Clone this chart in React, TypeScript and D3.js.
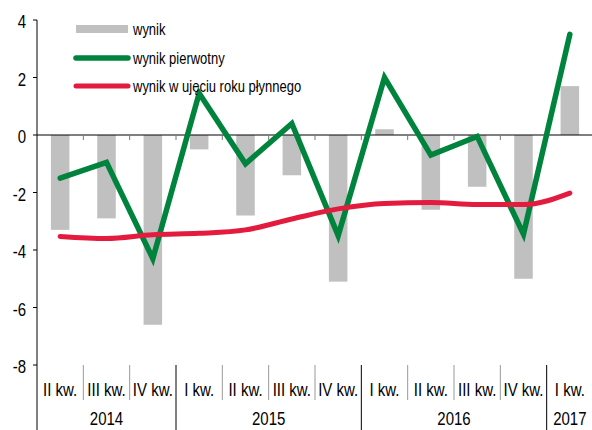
import React from "react";
import * as d3 from "d3";

const quarters = ["II kw.", "III kw.", "IV kw.", "I kw.", "II kw.", "III kw.", "IV kw.", "I kw.", "II kw.", "III kw.", "IV kw.", "I kw."];
const years = [
  { label: "2014", from: 0, to: 3 },
  { label: "2015", from: 3, to: 7 },
  { label: "2016", from: 7, to: 11 },
  { label: "2017", from: 11, to: 12 },
];
const wynik = [-3.3, -2.9, -6.6, -0.5, -2.8, -1.4, -5.1, 0.2, -2.6, -1.8, -5.0, 1.7];
const pierwotny = [-1.5, -0.95, -4.3, 1.45, -1.0, 0.4, -3.5, 2.0, -0.7, -0.05, -3.45, 3.5];
const roczny = [-3.53, -3.6, -3.47, -3.42, -3.3, -2.92, -2.57, -2.38, -2.35, -2.42, -2.42, -2.02];
const yTicks = [4, 2, 0, -2, -4, -6, -8];

const W = 592;
const H = 430;
const left = 37;
const right = 593;
const top = 20;
const bottom = 365;

const GREEN = "#00843D";
const RED = "#E31B3F";
const GRAY = "#C0C0C0";
const FONT = "Liberation Sans, Arial, sans-serif";

// text is a bit taller than wide in the original, so stretch it vertically
const T = ({ x, y, size, anchor = "start", children }: any) => (
  <text
    transform={`translate(${x},${y}) scale(1,1.2)`}
    textAnchor={anchor}
    fontSize={size}
    fill="#000"
  >
    {children}
  </text>
);

const App = () => {
  const idx = quarters.map((_, i) => i);
  const x = d3.scaleBand<number>().domain(idx).range([left, right]).padding(0);
  const bw = x.bandwidth();
  const y = d3.scaleLinear().domain([-8, 4]).range([bottom, top]);
  const cx = (i: number) => (x(i) as number) + bw / 2;
  const edge = (i: number) => left + i * bw;

  const greenLine = d3
    .line<number>()
    .x((_, i) => cx(i))
    .y((d) => y(d))(pierwotny) as string;
  const redLine = d3
    .line<number>()
    .x((_, i) => cx(i))
    .y((d) => y(d))
    .curve(d3.curveMonotoneX)(roczny) as string;

  const yearEdges = new Set(years.map((yr) => yr.from));

  return (
    <svg
      width={W}
      height={H}
      style={{ position: "absolute", left: 0, top: 0, background: "#fff" }}
      fontFamily={FONT}
    >
      {/* bars */}
      {wynik.map((v, i) => (
        <rect
          key={i}
          x={(x(i) as number) + bw * 0.3}
          width={bw * 0.4}
          y={Math.min(y(v), y(0))}
          height={Math.abs(y(v) - y(0))}
          fill={GRAY}
        />
      ))}

      {/* zero line and small ticks */}
      <line x1={left} x2={right} y1={y(0)} y2={y(0)} stroke="#000" strokeWidth={1} />
      {idx.slice(1).map((i) => (
        <line key={i} x1={edge(i)} x2={edge(i)} y1={y(0)} y2={y(0) + 5} stroke="#777" strokeWidth={1} />
      ))}

      {/* y axis */}
      <line x1={left} x2={left} y1={top} y2={H} stroke="#000" strokeWidth={1} />
      {yTicks.map((t) => (
        <g key={t}>
          <line x1={left - 4} x2={left} y1={y(t)} y2={y(t)} stroke="#000" />
          <T x={left - 11} y={y(t) + 8} size={15} anchor="end">
            {t}
          </T>
        </g>
      ))}

      {/* category labels & separators */}
      {quarters.map((q, i) => (
        <T key={i} x={cx(i)} y={396} size={15} anchor="middle">
          {q}
        </T>
      ))}
      {idx.slice(1).map((i) =>
        yearEdges.has(i) ? (
          <line key={i} x1={edge(i)} x2={edge(i)} y1={bottom} y2={H} stroke="#000" strokeWidth={1} />
        ) : (
          <line key={i} x1={edge(i)} x2={edge(i)} y1={bottom} y2={400} stroke="#999" strokeWidth={1} />
        )
      )}
      {years.map((yr) => (
        <T key={yr.label} x={(edge(yr.from) + edge(yr.to)) / 2} y={425} size={15} anchor="middle">
          {yr.label}
        </T>
      ))}

      {/* lines */}
      <path d={greenLine} fill="none" stroke={GREEN} strokeWidth={5.5} strokeLinecap="round" strokeLinejoin="miter" />
      <path d={redLine} fill="none" stroke={RED} strokeWidth={5} strokeLinecap="round" />

      {/* legend */}
      <rect x={76} y={25} width={52} height={8} fill={GRAY} />
      <T x={133} y={35} size={13}>wynik</T>
      <line x1={76} x2={128} y1={58} y2={58} stroke={GREEN} strokeWidth={5.5} strokeLinecap="round" />
      <T x={133} y={63.5} size={13}>wynik pierwotny</T>
      <line x1={76} x2={128} y1={86} y2={86} stroke={RED} strokeWidth={5} strokeLinecap="round" />
      <T x={133} y={91.5} size={13}>wynik w ujęciu roku płynnego</T>
    </svg>
  );
};

export default App;
